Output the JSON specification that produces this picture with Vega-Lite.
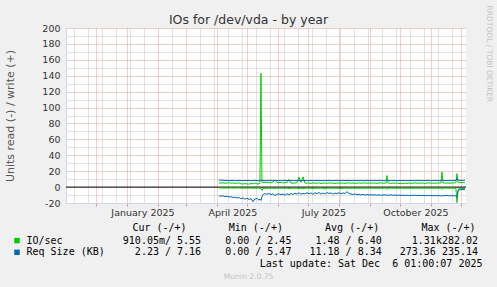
{
"$schema": "https://vega.github.io/schema/vega-lite/v6.json",
"width": 400, "height": 175,
"autosize": {"type": "none"},
"padding": {"left": 66, "top": 28, "right": 31, "bottom": 84},
"background": "#F0F0F0",
"view": {"fill": "#FFFFFF", "stroke": null},
"title": {"text": "IOs for /dev/vda - by year", "anchor": "middle", "frame": "group", "dx": -17.5, "dy": 35, "offset": 4, "baseline": "alphabetic", "font": "DejaVu Sans", "fontSize": 12.5, "fontWeight": "normal", "color": "#333333"},
"data": {"values": [
{"d":"2025-04-03","iw":5.2,"ir":-1.1,"qw":8.8,"qr":-11.0},
{"d":"2025-04-05","iw":5.0,"ir":-1.2,"qw":8.6,"qr":-11.5},
{"d":"2025-04-07","iw":5.4,"ir":-1.0,"qw":8.7,"qr":-10.8},
{"d":"2025-04-09","iw":4.8,"ir":-1.3,"qw":8.4,"qr":-12.0},
{"d":"2025-04-11","iw":5.1,"ir":-1.1,"qw":8.3,"qr":-11.4},
{"d":"2025-04-13","iw":5.5,"ir":-1.2,"qw":8.2,"qr":-12.5},
{"d":"2025-04-15","iw":4.9,"ir":-1.0,"qw":8.3,"qr":-12.0},
{"d":"2025-04-17","iw":5.2,"ir":-1.3,"qw":8.2,"qr":-13.2},
{"d":"2025-04-19","iw":4.6,"ir":-1.1,"qw":8.1,"qr":-12.6},
{"d":"2025-04-21","iw":5.0,"ir":-1.2,"qw":8.2,"qr":-13.8},
{"d":"2025-04-23","iw":5.3,"ir":-1.0,"qw":8.3,"qr":-13.0},
{"d":"2025-04-25","iw":4.2,"ir":-1.3,"qw":8.2,"qr":-14.5},
{"d":"2025-04-27","iw":3.9,"ir":-1.2,"qw":8.1,"qr":-13.6},
{"d":"2025-04-29","iw":4.4,"ir":-1.4,"qw":8.2,"qr":-15.2},
{"d":"2025-05-01","iw":4.0,"ir":-1.2,"qw":8.3,"qr":-14.0},
{"d":"2025-05-03","iw":3.8,"ir":-1.3,"qw":8.2,"qr":-15.5},
{"d":"2025-05-05","iw":4.5,"ir":-1.1,"qw":8.1,"qr":-14.6},
{"d":"2025-05-07","iw":4.1,"ir":-1.4,"qw":8.2,"qr":-18.5},
{"d":"2025-05-09","iw":5.2,"ir":-1.2,"qw":8.3,"qr":-15.0},
{"d":"2025-05-11","iw":4.0,"ir":-1.3,"qw":8.2,"qr":-14.2},
{"d":"2025-05-13","iw":4.3,"ir":-1.2,"qw":8.1,"qr":-16.5},
{"d":"2025-05-14","iw":5.0,"ir":-1.4,"qw":8.2,"qr":-15.0},
{"d":"2025-05-15","iw":143.0,"ir":-1.6,"qw":8.6,"qr":-16.8},
{"d":"2025-05-16","iw":6.5,"ir":-4.2,"qw":8.4,"qr":-12.0},
{"d":"2025-05-17","iw":5.8,"ir":-1.8,"qw":8.2,"qr":-9.5},
{"d":"2025-05-19","iw":6.2,"ir":-1.5,"qw":8.1,"qr":-8.2},
{"d":"2025-05-21","iw":5.6,"ir":-1.4,"qw":8.2,"qr":-9.0},
{"d":"2025-05-23","iw":6.0,"ir":-1.5,"qw":8.3,"qr":-8.0},
{"d":"2025-05-25","iw":5.4,"ir":-1.3,"qw":8.2,"qr":-9.4},
{"d":"2025-05-27","iw":6.3,"ir":-1.4,"qw":8.1,"qr":-8.6},
{"d":"2025-05-29","iw":9.0,"ir":-1.6,"qw":8.3,"qr":-10.5},
{"d":"2025-05-31","iw":5.8,"ir":-1.4,"qw":8.2,"qr":-9.2},
{"d":"2025-06-02","iw":5.5,"ir":-1.3,"qw":8.2,"qr":-8.4},
{"d":"2025-06-04","iw":6.0,"ir":-1.4,"qw":8.1,"qr":-9.6},
{"d":"2025-06-06","iw":5.2,"ir":-1.3,"qw":8.2,"qr":-8.8},
{"d":"2025-06-08","iw":5.7,"ir":-1.5,"qw":8.3,"qr":-10.0},
{"d":"2025-06-10","iw":5.4,"ir":-1.3,"qw":8.2,"qr":-8.5},
{"d":"2025-06-12","iw":9.5,"ir":-1.8,"qw":8.3,"qr":-9.8},
{"d":"2025-06-14","iw":5.0,"ir":-1.4,"qw":8.2,"qr":-8.0},
{"d":"2025-06-16","iw":4.8,"ir":-1.3,"qw":8.1,"qr":-9.2},
{"d":"2025-06-18","iw":5.3,"ir":-1.4,"qw":8.2,"qr":-7.6},
{"d":"2025-06-20","iw":5.6,"ir":-1.3,"qw":8.2,"qr":-8.8},
{"d":"2025-06-22","iw":12.5,"ir":-2.0,"qw":8.4,"qr":-7.2},
{"d":"2025-06-24","iw":6.0,"ir":-1.4,"qw":8.2,"qr":-9.0},
{"d":"2025-06-26","iw":13.0,"ir":-2.2,"qw":8.4,"qr":-7.8},
{"d":"2025-06-28","iw":5.2,"ir":-1.4,"qw":8.2,"qr":-8.6},
{"d":"2025-06-30","iw":4.9,"ir":-1.3,"qw":8.1,"qr":-7.0},
{"d":"2025-07-02","iw":5.1,"ir":-1.4,"qw":8.2,"qr":-8.4},
{"d":"2025-07-04","iw":4.6,"ir":-1.3,"qw":8.2,"qr":-7.4},
{"d":"2025-07-06","iw":5.3,"ir":-2.2,"qw":8.1,"qr":-9.0},
{"d":"2025-07-08","iw":5.0,"ir":-1.4,"qw":8.2,"qr":-7.2},
{"d":"2025-07-10","iw":4.8,"ir":-1.3,"qw":8.2,"qr":-8.2},
{"d":"2025-07-12","iw":5.4,"ir":-1.4,"qw":8.3,"qr":-6.8},
{"d":"2025-07-14","iw":4.4,"ir":-1.3,"qw":8.2,"qr":-8.8},
{"d":"2025-07-16","iw":5.0,"ir":-1.4,"qw":8.1,"qr":-7.5},
{"d":"2025-07-18","iw":5.2,"ir":-2.4,"qw":8.2,"qr":-8.6},
{"d":"2025-07-20","iw":4.7,"ir":-1.4,"qw":8.2,"qr":-6.9},
{"d":"2025-07-22","iw":5.3,"ir":-1.3,"qw":8.3,"qr":-8.0},
{"d":"2025-07-24","iw":4.9,"ir":-1.4,"qw":8.2,"qr":-7.3},
{"d":"2025-07-26","iw":5.1,"ir":-1.3,"qw":8.1,"qr":-8.9},
{"d":"2025-07-28","iw":4.5,"ir":-1.4,"qw":8.2,"qr":-7.6},
{"d":"2025-07-30","iw":5.0,"ir":-1.3,"qw":8.2,"qr":-8.3},
{"d":"2025-08-01","iw":5.2,"ir":-1.4,"qw":8.2,"qr":-7.0},
{"d":"2025-08-03","iw":4.8,"ir":-2.3,"qw":8.1,"qr":-8.5},
{"d":"2025-08-05","iw":5.1,"ir":-1.4,"qw":8.2,"qr":-7.4},
{"d":"2025-08-07","iw":4.6,"ir":-1.3,"qw":8.2,"qr":-8.1},
{"d":"2025-08-09","iw":5.0,"ir":-1.4,"qw":8.3,"qr":-5.8},
{"d":"2025-08-11","iw":5.3,"ir":-1.3,"qw":8.2,"qr":-7.9},
{"d":"2025-08-13","iw":4.9,"ir":-1.4,"qw":8.2,"qr":-8.8},
{"d":"2025-08-15","iw":5.1,"ir":-1.3,"qw":8.1,"qr":-9.3},
{"d":"2025-08-17","iw":4.7,"ir":-1.4,"qw":8.2,"qr":-8.6},
{"d":"2025-08-19","iw":5.0,"ir":-1.3,"qw":8.2,"qr":-9.6},
{"d":"2025-08-21","iw":5.2,"ir":-1.4,"qw":8.2,"qr":-9.0},
{"d":"2025-08-23","iw":4.8,"ir":-1.3,"qw":8.1,"qr":-9.8},
{"d":"2025-08-25","iw":5.0,"ir":-1.4,"qw":8.2,"qr":-9.2},
{"d":"2025-08-27","iw":5.3,"ir":-1.3,"qw":8.2,"qr":-10.0},
{"d":"2025-08-29","iw":4.9,"ir":-1.4,"qw":8.2,"qr":-9.4},
{"d":"2025-08-31","iw":5.1,"ir":-1.3,"qw":8.1,"qr":-9.9},
{"d":"2025-09-02","iw":4.8,"ir":-1.4,"qw":8.2,"qr":-9.5},
{"d":"2025-09-04","iw":5.2,"ir":-1.3,"qw":8.2,"qr":-10.1},
{"d":"2025-09-06","iw":5.0,"ir":-1.4,"qw":8.2,"qr":-9.6},
{"d":"2025-09-08","iw":4.7,"ir":-1.3,"qw":8.1,"qr":-10.2},
{"d":"2025-09-10","iw":5.1,"ir":-1.4,"qw":8.2,"qr":-9.7},
{"d":"2025-09-12","iw":5.3,"ir":-1.3,"qw":8.2,"qr":-10.3},
{"d":"2025-09-14","iw":4.9,"ir":-1.4,"qw":8.2,"qr":-9.8},
{"d":"2025-09-16","iw":5.0,"ir":-1.3,"qw":8.1,"qr":-10.0},
{"d":"2025-09-17","iw":5.2,"ir":-1.4,"qw":8.2,"qr":-9.6},
{"d":"2025-09-18","iw":14.5,"ir":-3.0,"qw":8.5,"qr":-10.8},
{"d":"2025-09-19","iw":5.5,"ir":-1.5,"qw":8.2,"qr":-9.9},
{"d":"2025-09-20","iw":5.0,"ir":-1.4,"qw":8.2,"qr":-10.2},
{"d":"2025-09-22","iw":4.6,"ir":-1.3,"qw":8.1,"qr":-9.7},
{"d":"2025-09-24","iw":5.1,"ir":-1.4,"qw":8.2,"qr":-10.4},
{"d":"2025-09-26","iw":4.8,"ir":-1.3,"qw":8.2,"qr":-9.9},
{"d":"2025-09-28","iw":5.2,"ir":-1.4,"qw":8.2,"qr":-10.5},
{"d":"2025-09-30","iw":4.4,"ir":-1.3,"qw":8.1,"qr":-10.0},
{"d":"2025-10-02","iw":4.9,"ir":-1.4,"qw":8.2,"qr":-10.6},
{"d":"2025-10-04","iw":4.2,"ir":-1.3,"qw":8.2,"qr":-10.1},
{"d":"2025-10-06","iw":5.0,"ir":-1.4,"qw":8.2,"qr":-10.7},
{"d":"2025-10-08","iw":4.5,"ir":-1.3,"qw":8.1,"qr":-10.2},
{"d":"2025-10-10","iw":5.1,"ir":-1.4,"qw":8.2,"qr":-10.8},
{"d":"2025-10-12","iw":4.7,"ir":-1.3,"qw":8.2,"qr":-10.3},
{"d":"2025-10-14","iw":5.0,"ir":-1.4,"qw":8.2,"qr":-10.6},
{"d":"2025-10-16","iw":5.3,"ir":-1.3,"qw":8.1,"qr":-10.1},
{"d":"2025-10-18","iw":4.8,"ir":-1.4,"qw":8.2,"qr":-10.7},
{"d":"2025-10-20","iw":5.1,"ir":-1.3,"qw":8.2,"qr":-10.2},
{"d":"2025-10-22","iw":4.9,"ir":-1.4,"qw":8.2,"qr":-10.8},
{"d":"2025-10-24","iw":5.2,"ir":-1.3,"qw":8.1,"qr":-10.4},
{"d":"2025-10-26","iw":4.6,"ir":-1.4,"qw":8.2,"qr":-10.9},
{"d":"2025-10-28","iw":5.0,"ir":-1.3,"qw":8.2,"qr":-10.5},
{"d":"2025-10-30","iw":5.3,"ir":-1.4,"qw":8.2,"qr":-10.8},
{"d":"2025-11-01","iw":4.9,"ir":-1.3,"qw":8.1,"qr":-10.6},
{"d":"2025-11-03","iw":5.1,"ir":-1.4,"qw":8.2,"qr":-10.9},
{"d":"2025-11-05","iw":4.7,"ir":-1.3,"qw":8.2,"qr":-10.7},
{"d":"2025-11-07","iw":5.2,"ir":-1.4,"qw":8.2,"qr":-11.0},
{"d":"2025-11-09","iw":5.0,"ir":-1.3,"qw":8.1,"qr":-10.6},
{"d":"2025-11-11","iw":5.3,"ir":-1.4,"qw":8.3,"qr":-10.8},
{"d":"2025-11-12","iw":19.0,"ir":-3.2,"qw":9.2,"qr":-11.5},
{"d":"2025-11-13","iw":5.6,"ir":-1.5,"qw":8.4,"qr":-10.7},
{"d":"2025-11-15","iw":5.0,"ir":-1.4,"qw":8.2,"qr":-10.9},
{"d":"2025-11-17","iw":5.2,"ir":-1.3,"qw":8.2,"qr":-10.6},
{"d":"2025-11-19","iw":4.9,"ir":-1.4,"qw":8.1,"qr":-10.9},
{"d":"2025-11-21","iw":5.1,"ir":-1.3,"qw":8.2,"qr":-10.7},
{"d":"2025-11-23","iw":5.4,"ir":-1.4,"qw":8.2,"qr":-11.0},
{"d":"2025-11-25","iw":5.0,"ir":-1.5,"qw":8.3,"qr":-10.8},
{"d":"2025-11-26","iw":6.0,"ir":-2.5,"qw":8.5,"qr":-11.5},
{"d":"2025-11-27","iw":17.0,"ir":-19.5,"qw":11.0,"qr":-12.5},
{"d":"2025-11-28","iw":6.5,"ir":-5.0,"qw":8.8,"qr":-4.5},
{"d":"2025-11-29","iw":5.6,"ir":-2.0,"qw":8.5,"qr":-3.6},
{"d":"2025-12-01","iw":5.5,"ir":-1.8,"qw":8.5,"qr":-3.3},
{"d":"2025-12-03","iw":5.7,"ir":-1.9,"qw":8.4,"qr":-3.0},
{"d":"2025-12-05","iw":5.5,"ir":-1.8,"qw":8.5,"qr":-2.9}
]},
"layer": [
{
"data": {"values": [{"v": 0}]},
"mark": {"type": "rule", "color": "#000000", "strokeWidth": 1},
"encoding": {"y": {"field": "v", "type": "quantitative", "scale": {"domain": [-20, 200], "nice": false, "zero": false}, "axis": null}}
},
{
"mark": {"type": "line", "strokeWidth": 1, "clip": true},
"encoding": {
"x": {"field": "d", "type": "temporal",
"scale": {"type": "utc", "domain": [{"year": 2024, "month": 11, "date": 1, "hours": 1, "utc": true}, {"year": 2025, "month": 12, "date": 6, "hours": 1, "utc": true}]},
"axis": {"orient": "bottom",
"values": [
{"year":2024,"month":11,"date":9,"utc":true},{"year":2024,"month":11,"date":23,"utc":true},
{"year":2024,"month":12,"date":1,"utc":true},{"year":2024,"month":12,"date":7,"utc":true},{"year":2024,"month":12,"date":21,"utc":true},
{"year":2025,"month":1,"date":1,"utc":true},{"year":2025,"month":1,"date":4,"utc":true},{"year":2025,"month":1,"date":18,"utc":true},
{"year":2025,"month":2,"date":1,"utc":true},{"year":2025,"month":2,"date":15,"utc":true},
{"year":2025,"month":3,"date":1,"utc":true},{"year":2025,"month":3,"date":15,"utc":true},{"year":2025,"month":3,"date":29,"utc":true},
{"year":2025,"month":4,"date":1,"utc":true},{"year":2025,"month":4,"date":12,"utc":true},{"year":2025,"month":4,"date":26,"utc":true},
{"year":2025,"month":5,"date":1,"utc":true},{"year":2025,"month":5,"date":10,"utc":true},{"year":2025,"month":5,"date":24,"utc":true},
{"year":2025,"month":6,"date":1,"utc":true},{"year":2025,"month":6,"date":7,"utc":true},{"year":2025,"month":6,"date":21,"utc":true},
{"year":2025,"month":7,"date":1,"utc":true},{"year":2025,"month":7,"date":5,"utc":true},{"year":2025,"month":7,"date":19,"utc":true},
{"year":2025,"month":8,"date":1,"utc":true},{"year":2025,"month":8,"date":2,"utc":true},{"year":2025,"month":8,"date":16,"utc":true},{"year":2025,"month":8,"date":30,"utc":true},
{"year":2025,"month":9,"date":1,"utc":true},{"year":2025,"month":9,"date":13,"utc":true},{"year":2025,"month":9,"date":27,"utc":true},
{"year":2025,"month":10,"date":1,"utc":true},{"year":2025,"month":10,"date":11,"utc":true},{"year":2025,"month":10,"date":25,"utc":true},
{"year":2025,"month":11,"date":1,"utc":true},{"year":2025,"month":11,"date":8,"utc":true},{"year":2025,"month":11,"date":22,"utc":true},
{"year":2025,"month":12,"date":1,"utc":true}
],
"labelExpr": "utcdate(datum.value) == 1 && utcmonth(datum.value) % 3 == 0 ? utcFormat(datum.value, '%B %Y') : ''",
"labelOffset": 15.5, "labelOverlap": false, "labelFlush": false, "labelBound": false, "labelAlign": "center",
"labelFont": "DejaVu Sans", "labelFontSize": 9.5, "labelColor": "#333333", "labelBaseline": "alphabetic", "labelPadding": 9,
"ticks": true, "tickSize": 3, "tickWidth": 1,
"tickColor": {"condition": {"test": "utcdate(datum.value) == 1", "value": "#e89090"}, "value": "transparent"},
"grid": true, "gridDash": [1, 1], "gridWidth": 1,
"gridColor": {"condition": {"test": "utcdate(datum.value) == 1", "value": "#e89a9a"}, "value": "#c4c4c4"},
"domain": true, "domainColor": "#CFD6F8", "domainWidth": 1,
"title": "Last update: Sat Dec\u00a0 6 01:00:07 2025", "titleX": 416, "titleY": 63.5, "titleAlign": "right", "titleAnchor": null, "titleBaseline": "alphabetic",
"titleFont": "DejaVu Sans Mono", "titleFontSize": 10, "titleFontWeight": "normal", "titleColor": "#000000"}},
"y": {"field": "iw", "type": "quantitative", "scale": {"domain": [-20, 200], "nice": false, "zero": false},
"axis": {"orient": "left",
"values": [-20, -10, 0, 10, 20, 30, 40, 50, 60, 70, 80, 90, 100, 110, 120, 130, 140, 150, 160, 170, 180, 190, 200],
"labelExpr": "datum.value % 20 == 0 ? '' + datum.value : ''",
"labelFont": "DejaVu Sans", "labelFontSize": 9.5, "labelColor": "#333333", "labelPadding": 6, "labelOverlap": false, "labelFlush": false,
"ticks": false,
"grid": true, "gridDash": [1, 1], "gridWidth": 1,
"gridColor": {"condition": {"test": "datum.value % 20 == 0", "value": "#e89a9a"}, "value": "#c4c4c4"},
"domain": true, "domainColor": "#CFD6F8", "domainWidth": 1,
"title": "Units read (-) / write (+)", "titleX": -55.5, "titleY": 87.5, "titleAngle": -90, "titleAlign": "center", "titleBaseline": "middle", "titleAnchor": null,
"titleFont": "DejaVu Sans", "titleFontSize": 11, "titleFontWeight": "normal", "titleColor": "#555555"}},
"color": {"datum": "IO/sec", "type": "nominal",
"scale": {"domain": ["IO/sec", "Req Size (KB)"], "range": ["#00CC00", "#0066B3"]},
"legend": {"orient": "none", "legendX": -54, "legendY": 195, "direction": "vertical", "padding": 0,
"title": "\u200b\u00a0\u00a0\u00a0\u00a0\u00a0\u00a0\u00a0\u00a0\u00a0\u00a0\u00a0\u00a0\u00a0\u00a0\u00a0\u00a0\u00a0\u00a0\u00a0\u00a0Cur (-/+)\u00a0\u00a0\u00a0\u00a0\u00a0\u00a0\u00a0Min (-/+)\u00a0\u00a0\u00a0\u00a0\u00a0\u00a0\u00a0Avg (-/+)\u00a0\u00a0\u00a0\u00a0\u00a0\u00a0\u00a0Max (-/+)",
"titleFont": "DejaVu Sans Mono", "titleFontSize": 10, "titleFontWeight": "normal", "titleColor": "#000000", "titleLimit": 0, "titlePadding": 2.6,
"labelFont": "DejaVu Sans Mono", "labelFontSize": 10, "labelColor": "#000000", "labelLimit": 0, "labelOffset": 4.5,
"labelExpr": "datum.label == 'IO/sec' ? 'IO/sec\u00a0\u00a0\u00a0\u00a0\u00a0\u00a0\u00a0\u00a0\u00a0\u00a0910.05m/ 5.55\u00a0\u00a0\u00a0\u00a00.00 / 2.45\u00a0\u00a0\u00a0\u00a01.48 / 6.40\u00a0\u00a0\u00a0\u00a0\u00a01.31k282.02' : 'Req Size (KB)\u00a0\u00a0\u00a0\u00a0\u00a02.23 / 7.16\u00a0\u00a0\u00a0\u00a00.00 / 5.47\u00a0\u00a0\u00a011.18 / 8.34\u00a0\u00a0\u00a0273.36 235.14'",
"symbolType": "square", "symbolSize": 30, "symbolStrokeWidth": 0, "rowPadding": 1.7,
"encode": {"symbols": {"update": {"fill": {"scale": "color", "field": "value"}, "fillOpacity": {"value": 1}, "strokeWidth": {"value": 0}}}}}}
}
},
{
"mark": {"type": "line", "strokeWidth": 1, "clip": true},
"encoding": {
"x": {"field": "d", "type": "temporal",
"scale": {"type": "utc", "domain": [{"year": 2024, "month": 11, "date": 1, "hours": 1, "utc": true}, {"year": 2025, "month": 12, "date": 6, "hours": 1, "utc": true}]},
"axis": {"orient": "top", "labels": false, "ticks": false, "domain": false, "grid": false,
"title": "Munin 2.0.75", "titleX": 182, "titleY": 250.3, "titleAlign": "center", "titleAnchor": null, "titleBaseline": "alphabetic",
"titleFont": "DejaVu Sans", "titleFontSize": 7.6, "titleFontWeight": "normal", "titleColor": "#c4c4c4"}},
"y": {"field": "ir", "type": "quantitative", "scale": {"domain": [-20, 200], "nice": false, "zero": false},
"axis": {"orient": "right", "labels": false, "ticks": false, "domain": false, "grid": false,
"title": "RRDTOOL / TOBI OETIKER", "titleX": 22.5, "titleY": 25.4, "titleAngle": 90, "titleAlign": "center", "titleAnchor": null, "titleBaseline": "middle",
"titleFont": "DejaVu Sans", "titleFontSize": 7.5, "titleFontWeight": "normal", "titleColor": "#c4c4c4"}},
"color": {"datum": "IO/sec", "type": "nominal"}
}
},
{
"mark": {"type": "line", "strokeWidth": 1, "clip": true},
"encoding": {
"x": {"field": "d", "type": "temporal", "axis": null},
"y": {"field": "qw", "type": "quantitative", "scale": {"domain": [-20, 200], "nice": false, "zero": false}, "axis": null},
"color": {"datum": "Req Size (KB)", "type": "nominal"}
}
},
{
"mark": {"type": "line", "strokeWidth": 1, "clip": true},
"encoding": {
"x": {"field": "d", "type": "temporal", "axis": null},
"y": {"field": "qr", "type": "quantitative", "scale": {"domain": [-20, 200], "nice": false, "zero": false}, "axis": null},
"color": {"datum": "Req Size (KB)", "type": "nominal"}
}
}
],
"resolve": {"axis": {"x": "independent", "y": "independent"}}
}
